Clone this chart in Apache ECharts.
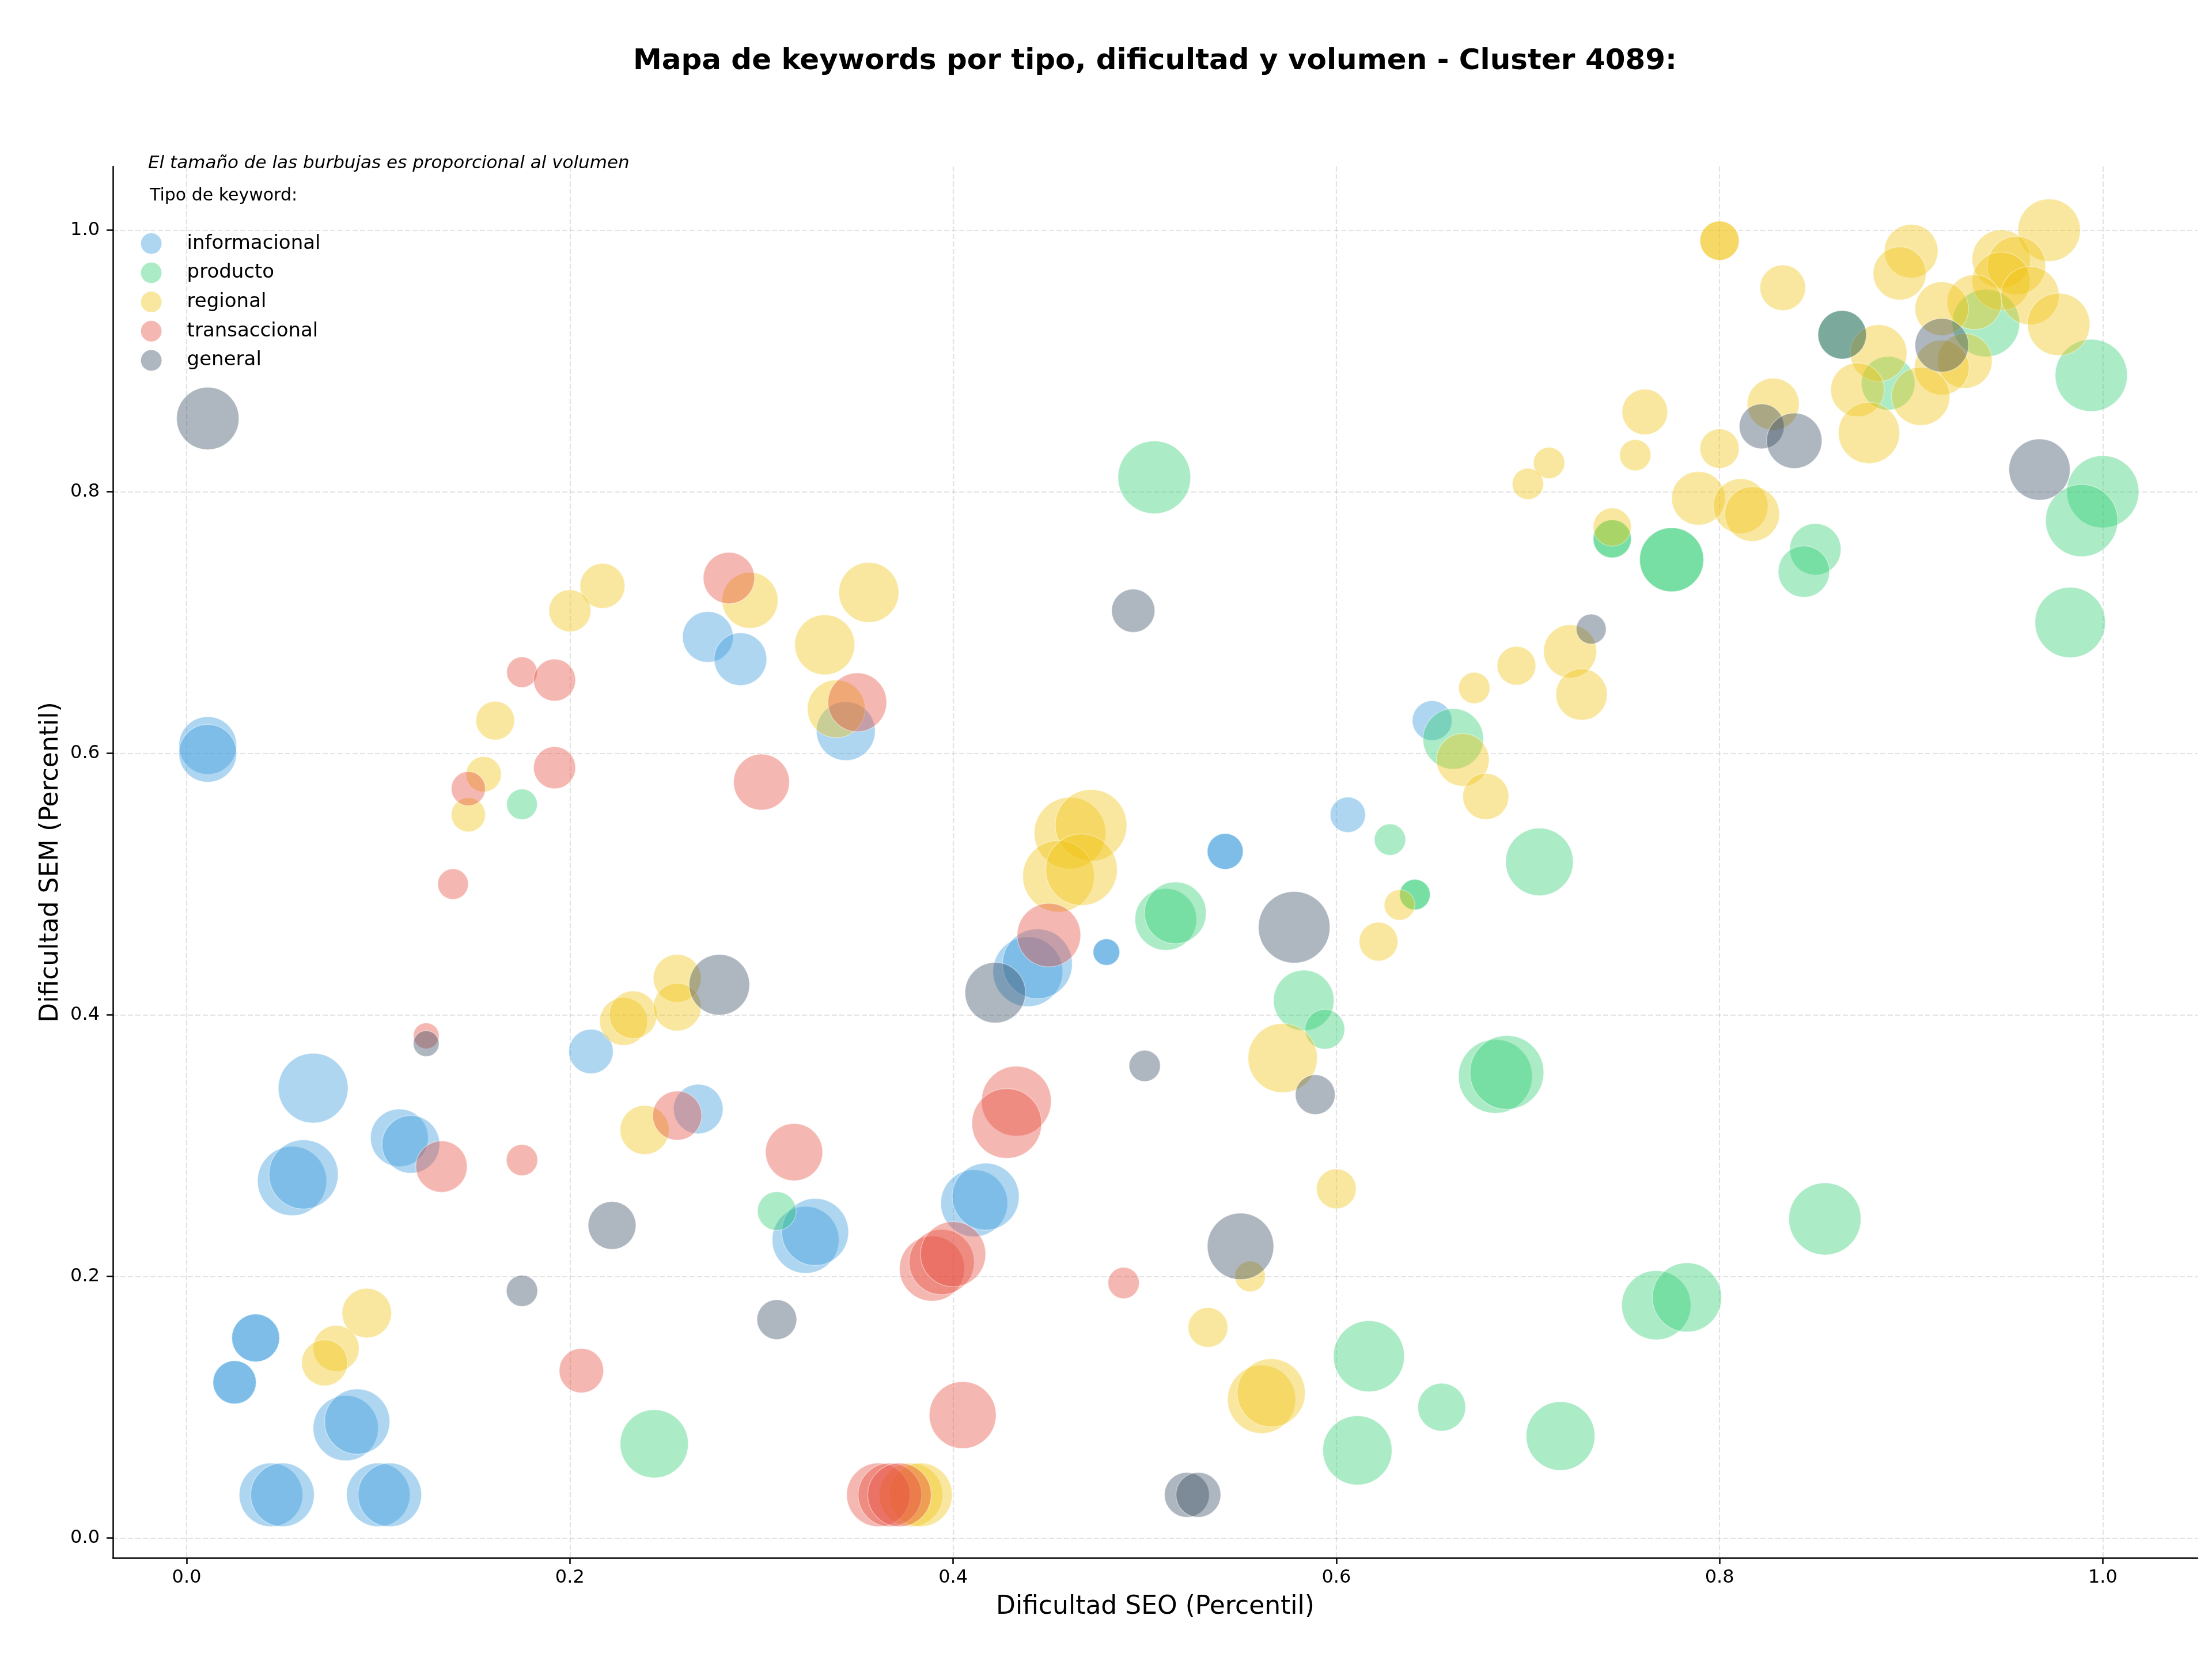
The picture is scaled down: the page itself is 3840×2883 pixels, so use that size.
<!DOCTYPE html>
<html><head><meta charset="utf-8">
<script src="https://cdn.jsdelivr.net/npm/echarts@6/dist/echarts.min.js"></script>
<style>html,body{margin:0;padding:0;background:#fff}#c{width:3840px;height:2883px}</style>
</head><body><div id="c"></div>
<script>
const categories = ['informacional','producto','regional','transaccional','general'];
const tickValues = [0, 0.2, 0.4, 0.6, 0.8, 1.0];

const infoSeo = [0.011,0.011,0.272,0.289,0.344,0.542,0.542,0.606,0.650,0.480,0.480,0.439,0.444,0.066,0.055,0.061,0.111,0.117,0.211,0.267,0.323,0.328,0.036,0.036,0.025,0.025,0.083,0.089,0.044,0.050,0.100,0.106,0.411,0.417];
const infoSem = [0.606,0.600,0.689,0.672,0.617,0.525,0.525,0.553,0.625,0.448,0.448,0.433,0.439,0.344,0.273,0.278,0.306,0.301,0.372,0.328,0.228,0.234,0.153,0.153,0.119,0.119,0.084,0.089,0.033,0.033,0.033,0.033,0.256,0.261];
const infoVol = [1600,1600,1240,1330,1660,620,620,600,760,340,340,2340,2340,2340,2300,2300,1600,1600,950,1180,2150,2150,1100,1100,900,900,2040,2040,1940,1940,1940,1940,2150,2150];

const prodSeo = [0.175,0.505,0.628,0.661,0.706,0.641,0.641,0.864,0.939,0.888,0.994,1.000,0.989,0.983,0.744,0.744,0.775,0.775,0.850,0.844,0.308,0.244,0.511,0.516,0.583,0.594,0.683,0.689,0.617,0.655,0.611,0.855,0.767,0.783,0.717];
const prodSem = [0.561,0.811,0.534,0.611,0.517,0.492,0.492,0.920,0.929,0.883,0.889,0.800,0.778,0.700,0.764,0.764,0.748,0.748,0.756,0.739,0.250,0.072,0.473,0.478,0.411,0.389,0.353,0.356,0.139,0.100,0.067,0.244,0.178,0.184,0.078];
const prodVol = [450,2540,470,1760,2190,450,450,1130,2190,1380,2500,2500,2500,2380,700,700,1970,1970,1270,1270,720,2230,1830,1830,1760,760,2620,2620,2420,1100,2300,2500,2300,2300,2270];

const regSeo = [0.217,0.200,0.294,0.333,0.161,0.155,0.147,0.339,0.356,0.694,0.672,0.666,0.678,0.461,0.472,0.455,0.467,0.633,0.622,0.800,0.800,0.833,0.900,0.894,0.972,0.947,0.955,0.947,0.962,0.933,0.916,0.977,0.928,0.916,0.883,0.872,0.905,0.878,0.828,0.761,0.800,0.756,0.711,0.700,0.789,0.811,0.817,0.744,0.722,0.728,0.228,0.233,0.256,0.256,0.239,0.094,0.078,0.072,0.572,0.555,0.533,0.600,0.561,0.566,0.378,0.383];
const regSem = [0.728,0.709,0.717,0.683,0.625,0.584,0.553,0.634,0.723,0.667,0.650,0.595,0.567,0.539,0.545,0.506,0.511,0.484,0.456,0.992,0.992,0.956,0.984,0.967,1.000,0.978,0.973,0.961,0.950,0.945,0.940,0.928,0.900,0.895,0.906,0.878,0.873,0.845,0.867,0.861,0.833,0.828,0.822,0.806,0.795,0.789,0.783,0.773,0.678,0.645,0.395,0.400,0.428,0.406,0.312,0.172,0.145,0.134,0.367,0.200,0.161,0.267,0.106,0.111,0.033,0.033];
const regVol = [970,850,1500,1730,720,600,560,1600,1730,720,470,1330,1020,2460,2460,2460,2460,450,720,740,740,1000,1380,1350,1870,1630,1630,1630,1630,1440,1380,1870,1440,1440,1540,1380,1630,1800,1300,1000,740,470,470,470,1380,1440,1440,700,1350,1270,1100,1100,1100,1100,1160,1180,1020,1020,2300,450,760,760,2230,2230,1940,1940];

const transSeo = [0.283,0.175,0.192,0.192,0.147,0.300,0.350,0.139,0.125,0.133,0.175,0.256,0.317,0.206,0.450,0.433,0.428,0.389,0.394,0.400,0.489,0.405,0.361,0.367,0.372];
const transSem = [0.734,0.662,0.656,0.589,0.573,0.578,0.639,0.500,0.384,0.284,0.289,0.323,0.295,0.128,0.461,0.334,0.317,0.206,0.211,0.217,0.195,0.094,0.033,0.033,0.033];
const transVol = [1270,450,850,850,560,1500,1660,450,320,1270,470,1160,1570,950,1940,2340,2340,2040,2040,2040,470,2150,1940,1940,1940];

const genSeo = [0.011,0.494,0.864,0.916,0.822,0.839,0.967,0.733,0.125,0.278,0.222,0.175,0.308,0.578,0.422,0.589,0.500,0.550,0.522,0.528];
const genSem = [0.856,0.709,0.920,0.912,0.850,0.839,0.817,0.695,0.378,0.423,0.239,0.189,0.167,0.467,0.417,0.339,0.361,0.223,0.033,0.033];
const genVol = [1870,900,1130,1380,970,1470,1800,430,320,1760,1100,470,760,2460,1760,760,470,2120,970,970];

const groups = [
  [infoSeo, infoSem, infoVol],
  [prodSeo, prodSem, prodVol],
  [regSeo, regSem, regVol],
  [transSeo, transSem, transVol],
  [genSeo, genSem, genVol]
];
const colors = ['rgba(52,152,219,0.5)','rgba(46,204,113,0.5)','rgba(241,196,15,0.5)','rgba(231,76,60,0.5)','rgba(52,73,94,0.5)'];
const FONT = 'DejaVu Sans';

const series = categories.map((name, i) => ({
  name: name,
  type: 'scatter',
  data: groups[i][0].map((x, j) => [x, groups[i][1][j], groups[i][2][j]]),
  symbol: 'circle',
  symbolSize: v => Math.sqrt(v[2]) * 2.5,
  itemStyle: { color: colors[i], borderColor: 'rgba(255,255,255,0.5)', borderWidth: 1.5 },
  emphasis: { disabled: true },
  animation: false
}));

const chart = echarts.init(document.getElementById('c'), null, { renderer: 'canvas' });
chart.setOption({
  animation: false,
  backgroundColor: '#fff',
  title: {
    text: 'Mapa de keywords por tipo, dificultad y volumen - Cluster 4089:',
    left: 2005, top: 82, textAlign: 'center', padding: 0,
    textStyle: { fontSize: 50, fontWeight: 'bold', fontFamily: FONT, color: '#000' }
  },
  grid: { left: 196, right: 25, top: 289, bottom: 179, containLabel: false },
  legend: {
    data: categories,
    orient: 'vertical',
    left: 244.6, top: 404.7,
    padding: 0,
    itemWidth: 36, itemHeight: 36, itemGap: 14.7,
    icon: 'circle',
    itemStyle: { borderWidth: 0 },
    textStyle: { fontSize: 34, fontFamily: FONT, color: '#000', padding: [0, 0, 0, 39] }
  },
  graphic: [
    { type: 'text', x: 257, y: 284, style: { text: 'El tamaño de las burbujas es proporcional al volumen', fontSize: 31, fontStyle: 'italic', fontFamily: FONT, fill: '#000', textAlign: 'left', textVerticalAlign: 'middle' } },
    { type: 'text', x: 260, y: 340, style: { text: 'Tipo de keyword:', fontSize: 30, fontFamily: FONT, fill: '#000', textAlign: 'left', textVerticalAlign: 'middle' } }
  ],
  xAxis: {
    type: 'value', min: -0.0385, max: 1.0495,
    name: 'Dificultad SEO (Percentil)', nameLocation: 'middle', nameGap: 64,
    nameTextStyle: { fontSize: 44, fontFamily: FONT, color: '#000' },
    axisLine: { show: true, onZero: false, lineStyle: { color: '#000', width: 2.5 } },
    axisTick: { show: true, length: 11, customValues: tickValues, lineStyle: { color: '#000', width: 2.5 } },
    axisLabel: { customValues: tickValues, formatter: v => v.toFixed(1), fontSize: 32, fontFamily: FONT, color: '#000', margin: 19 },
    splitLine: { show: true, lineStyle: { color: 'rgba(176,176,176,0.35)', width: 2.2, type: [9, 4] } }
  },
  yAxis: {
    type: 'value', min: -0.0152, max: 1.0487,
    name: 'Dificultad SEM (Percentil)', nameLocation: 'middle', nameGap: 85,
    nameTextStyle: { fontSize: 44, fontFamily: FONT, color: '#000' },
    axisLine: { show: true, onZero: false, lineStyle: { color: '#000', width: 2.5 } },
    axisTick: { show: true, length: 11, customValues: tickValues, lineStyle: { color: '#000', width: 2.5 } },
    axisLabel: { customValues: tickValues, formatter: v => v.toFixed(1), fontSize: 32, fontFamily: FONT, color: '#000', margin: 23 },
    splitLine: { show: true, lineStyle: { color: 'rgba(176,176,176,0.35)', width: 2.2, type: [9, 4] } }
  },
  series: series
});
</script>
</body></html>
